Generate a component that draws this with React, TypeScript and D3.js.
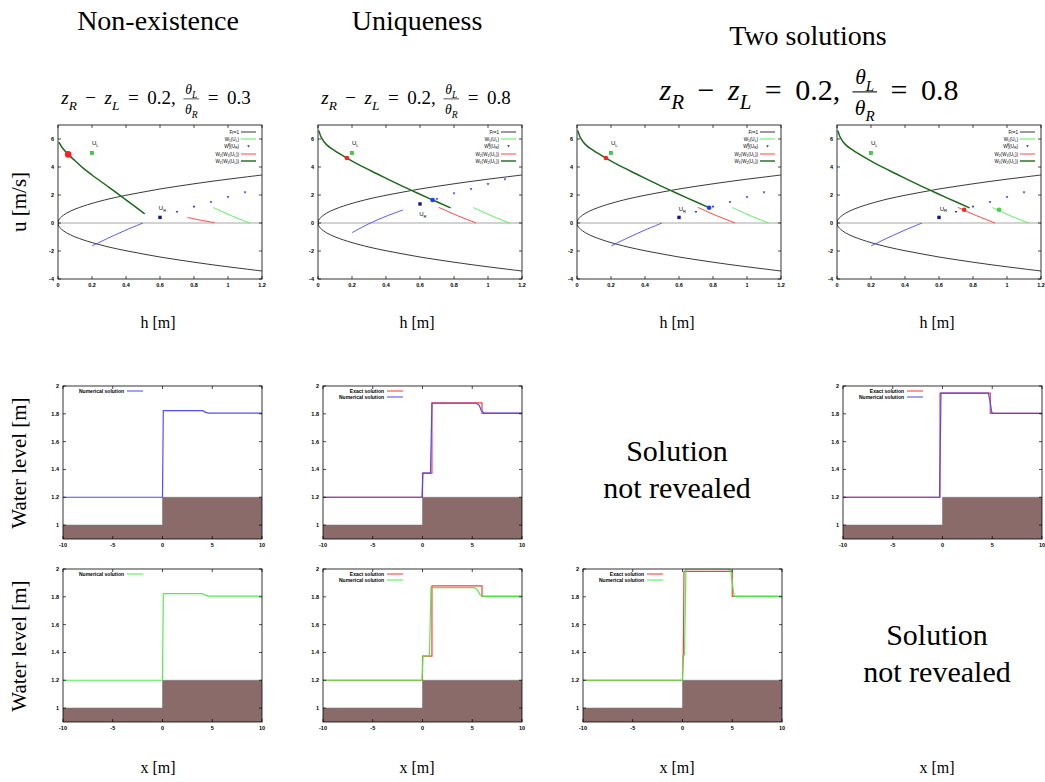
import { useEffect, useRef } from 'react';
import * as d3 from 'd3';

type P = [number, number];
type Seg = { t: string; s?: number; i?: boolean; dx?: number };

const SERIF = '"Liberation Serif", "DejaVu Serif", serif';
const SANS = '"Liberation Sans", Arial, sans-serif';

// ---------- phase plane (h, u) ----------
const hTicks = [0, 0.2, 0.4, 0.6, 0.8, 1, 1.2];
const uTicks = [-4, -2, 0, 2, 4, 6];
const frH = [0, 0.002, 0.01, 0.02, 0.05, 0.1, 0.15, 0.2, 0.3, 0.4, 0.5, 0.6, 0.7, 0.8, 0.9, 1.0, 1.1, 1.2];
const frU = [0, 0.14, 0.31, 0.44, 0.7, 0.99, 1.21, 1.4, 1.72, 1.98, 2.21, 2.43, 2.62, 2.8, 2.97, 3.13, 3.28, 3.43];

// W1(W2(UL)) dark green
const w12Nonexist: P[] = [[0.005, 5.78], [0.03, 5.3], [0.06, 4.9], [0.1, 4.45], [0.15, 3.9], [0.2, 3.43], [0.3, 2.55], [0.4, 1.65], [0.45, 1.2], [0.51, 0.65]];
const w12Other: P[] = [[0.005, 6.6], [0.02, 6.1], [0.05, 5.6], [0.1, 5.15], [0.17, 4.64], [0.25, 4.1], [0.35, 3.5], [0.45, 2.9], [0.55, 2.33], [0.65, 1.78], [0.78, 1.08]];
// blue curve through UR (W2 branch)
const blueLow: P[] = [[0.2, -1.64], [0.3, -1.05], [0.4, -0.5], [0.5, 0]];
const blueHigh: P[] = [[0.2, -0.69], [0.3, -0.05], [0.4, 0.48], [0.5, 0.93]];
// W2(W1(UL)) red
const redNonexist: P[] = [[0.76, 0.4], [0.84, 0.2], [0.92, 0.03]];
const redOther: P[] = [[0.71, 1.12], [0.82, 0.53], [0.93, 0.0]];
// W1(UL) light green
const w1L: P[] = [[0.915, 1.1], [1.02, 0.52], [1.127, 0.0]];
// W2^B(UR) triangles
const triLow: P[] = [[0.7, 0.8], [0.8, 1.17], [0.9, 1.5], [1.0, 1.86], [1.1, 2.2]];
const triHigh: P[] = [[0.7, 1.72], [0.8, 2.12], [0.9, 2.43], [1.0, 2.79], [1.1, 3.12]];
const uL: P = [0.2, 5.0];
const uRLow: P = [0.6, 0.4];
const uRHigh: P = [0.6, 1.36];

const phasePanels = [
  { w12: w12Nonexist, blue: blueLow, red: redNonexist, tri: triLow, uR: uRLow, uRLab: [0.593, 0.9] as P, dots: [{ p: [0.06, 4.9] as P, c: '#ff2020', r: 3.3 }] },
  { w12: w12Other, blue: blueHigh, red: redOther, tri: triHigh, uR: uRHigh, uRLab: [0.595, 0.5] as P, dots: [{ p: [0.17, 4.64] as P, c: '#ff2020', r: 2.3 }, { p: [0.674, 1.64] as P, c: '#1f3cff', r: 2.3 }] },
  { w12: w12Other, blue: blueLow, red: redOther, tri: triLow, uR: uRLow, uRLab: [0.598, 0.86] as P, dots: [{ p: [0.17, 4.64] as P, c: '#ff2020', r: 2.3 }, { p: [0.777, 1.09] as P, c: '#1f3cff', r: 2.3 }] },
  { w12: w12Other, blue: blueLow, red: redOther, tri: triLow, uR: uRLow, uRLab: [0.604, 0.88] as P, dots: [{ p: [0.748, 0.95] as P, c: '#ff2020', r: 2.3 }, { p: [0.953, 0.95] as P, c: '#33dd33', r: 2.3 }] },
];

// ---------- water level (x, eta) ----------
const xTicks = [-10, -5, 0, 5, 10];
const etaTicks = [1, 1.2, 1.4, 1.6, 1.8, 2];
const bed: P[] = [[-10, 1], [0, 1], [0, 1.2], [10, 1.2]];
const numNonexist: P[] = [[-10, 1.2], [0, 1.2], [0.08, 1.823], [4.0, 1.823], [4.3, 1.812], [4.6, 1.805], [10, 1.805]];
const exactUnique: P[] = [[-10, 1.2], [0, 1.2], [0, 1.373], [0.95, 1.373], [0.95, 1.878], [5.98, 1.878], [5.98, 1.803], [10, 1.803]];
const numUniqueBlue: P[] = [[-10, 1.2], [-0.05, 1.2], [0.05, 1.373], [0.8, 1.373], [0.95, 1.876], [5.4, 1.876], [5.7, 1.862], [5.9, 1.825], [6.2, 1.805], [10, 1.805]];
const numUniqueGreen: P[] = [[-10, 1.2], [-0.05, 1.2], [0.05, 1.375], [0.7, 1.375], [0.85, 1.866], [5.2, 1.866], [5.5, 1.852], [5.8, 1.815], [6.1, 1.803], [10, 1.803]];
const exactTwoA: P[] = [[-10, 1.2], [-0.25, 1.2], [-0.25, 1.949], [4.8, 1.949], [4.8, 1.803], [10, 1.803]];
const numTwoA: P[] = [[-10, 1.2], [-0.3, 1.2], [-0.15, 1.949], [4.6, 1.949], [4.75, 1.9], [4.95, 1.812], [5.1, 1.803], [10, 1.803]];
const exactTwoB: P[] = [[-10, 1.2], [0, 1.2], [0.08, 1.38], [0.15, 1.983], [5.0, 1.983], [5.0, 1.803], [10, 1.803]];
const numTwoB: P[] = [[-10, 1.2], [0, 1.2], [0.02, 1.38], [0.2, 1.38], [0.35, 2.0], [4.6, 2.0], [4.85, 1.99], [5.0, 1.9], [5.2, 1.803], [10, 1.803]];

const RED = '#ff3030';
const BLUE = '#4646ff';
const GREEN = '#44ee44';

const waterPanels = [
  { col: 0, row: 0, lines: [{ d: numNonexist, c: BLUE, label: 'Numerical solution' }] },
  { col: 1, row: 0, lines: [{ d: exactUnique, c: RED, label: 'Exact solution' }, { d: numUniqueBlue, c: BLUE, label: 'Numerical solution' }] },
  { col: 3, row: 0, lines: [{ d: exactTwoA, c: RED, label: 'Exact solution' }, { d: numTwoA, c: BLUE, label: 'Numerical solution' }] },
  { col: 0, row: 1, lines: [{ d: numNonexist, c: GREEN, label: 'Numerical solution' }] },
  { col: 1, row: 1, lines: [{ d: exactUnique, c: RED, label: 'Exact solution' }, { d: numUniqueGreen, c: GREEN, label: 'Numerical solution' }] },
  { col: 2, row: 1, lines: [{ d: exactTwoB, c: RED, label: 'Exact solution' }, { d: numTwoB, c: GREEN, label: 'Numerical solution' }] },
];

const phaseLefts = [58, 318, 577, 837];
const waterLefts = [63, 323, 583, 843];
const colCenters = [158, 417, 677, 937];

function rich(text: any, segs: Seg[], fs: number) {
  let cur = 0;
  segs.forEach((sg) => {
    const target = sg.s === 1 ? fs * 0.3 : sg.s === -1 ? -fs * 0.42 : 0;
    const ts = text.append('tspan').attr('dy', target - cur).text(sg.t);
    if (sg.dx) ts.attr('dx', sg.dx);
    if (sg.s) ts.attr('font-size', fs * 0.7);
    if (sg.i) ts.attr('font-style', 'italic');
    cur = target;
  });
}

function rightEdge(t: any) {
  const bb = (t.node() as SVGTextElement).getBBox();
  return bb.x + bb.width;
}

function mathLabel(svg: any, cx: number, y: number, size: number, ratio: string) {
  const gap = size * 0.45;
  const g = svg.append('g').attr('font-family', SERIF).attr('font-size', size).attr('fill', '#000');
  const t1 = g.append('text').attr('x', 0).attr('y', 0);
  rich(t1, [
    { t: 'z', i: true }, { t: 'R', i: true, s: 1 },
    { t: '−', dx: gap }, { t: 'z', i: true, dx: gap }, { t: 'L', i: true, s: 1 },
    { t: '=', dx: gap }, { t: '0.2,', dx: gap },
  ], size);
  let x = rightEdge(t1) + gap * 0.9;
  const fs = size * 0.72;
  const num = g.append('text').attr('font-size', fs).attr('y', -size * 0.52).attr('text-anchor', 'middle');
  rich(num, [{ t: 'θ', i: true }, { t: 'L', i: true, s: 1 }], fs);
  const den = g.append('text').attr('font-size', fs).attr('y', size * 0.5).attr('text-anchor', 'middle');
  rich(den, [{ t: 'θ', i: true }, { t: 'R', i: true, s: 1 }], fs);
  const fw = Math.max((num.node() as SVGTextElement).getBBox().width, (den.node() as SVGTextElement).getBBox().width);
  const pad = size * 0.08;
  num.attr('x', x + pad + fw / 2);
  den.attr('x', x + pad + fw / 2);
  g.append('line').attr('x1', x).attr('x2', x + fw + 2 * pad).attr('y1', -size * 0.27).attr('y2', -size * 0.27)
    .attr('stroke', '#000').attr('stroke-width', size * 0.035);
  x += fw + 2 * pad;
  const t3 = g.append('text').attr('x', x).attr('y', 0);
  rich(t3, [{ t: '=', dx: gap }, { t: ratio, dx: gap }], size);
  x = rightEdge(t3);
  g.attr('transform', `translate(${cx - x / 2},${y})`);
}

function frame(g: any, x: any, y: any, xt: number[], yt: number[], fmtX: (v: number) => string) {
  const [x0, x1] = x.range();
  const [y0, y1] = y.range();
  const tl = 3;
  const tk = g.append('g').attr('stroke', '#000').attr('stroke-width', 0.7);
  xt.forEach((v) => {
    tk.append('line').attr('x1', x(v)).attr('x2', x(v)).attr('y1', y0).attr('y2', y0 - tl);
    tk.append('line').attr('x1', x(v)).attr('x2', x(v)).attr('y1', y1).attr('y2', y1 + tl);
  });
  yt.forEach((v) => {
    tk.append('line').attr('x1', x0).attr('x2', x0 + tl).attr('y1', y(v)).attr('y2', y(v));
    tk.append('line').attr('x1', x1).attr('x2', x1 - tl).attr('y1', y(v)).attr('y2', y(v));
  });
  g.append('rect').attr('x', x0).attr('y', y1).attr('width', x1 - x0).attr('height', y0 - y1)
    .attr('fill', 'none').attr('stroke', '#000').attr('stroke-width', 0.8);
  const lab = g.append('g').attr('font-family', SANS).attr('font-size', 5.5).attr('font-weight', 'bold').attr('fill', '#000');
  xt.forEach((v) => {
    lab.append('text').attr('x', x(v)).attr('y', y0 + 8).attr('text-anchor', 'middle').text(fmtX(v));
  });
  yt.forEach((v) => {
    lab.append('text').attr('x', x0 - 4).attr('y', y(v) + 2).attr('text-anchor', 'end').text(String(v));
  });
}

export default function App() {
  const ref = useRef<SVGSVGElement>(null);

  useEffect(() => {
    if (!ref.current) return;
    const svg = d3.select(ref.current);
    svg.selectAll('*').remove();

    const defs = svg.append('defs');

    // ---- column titles ----
    const titles = svg.append('g').attr('font-family', SERIF).attr('font-size', 28).attr('text-anchor', 'middle').attr('fill', '#000');
    titles.append('text').attr('x', colCenters[0]).attr('y', 30).text('Non-existence');
    titles.append('text').attr('x', colCenters[1]).attr('y', 30).text('Uniqueness');
    titles.append('text').attr('x', 808).attr('y', 45).text('Two solutions');

    mathLabel(svg, 156, 104, 19, '0.3');
    mathLabel(svg, 416, 104, 19, '0.8');
    mathLabel(svg, 809, 100, 30, '0.8');

    // ---- phase plane panels ----
    const line = d3.line<P>().curve(d3.curveCatmullRom.alpha(0.5));
    const frUpper: P[] = frH.map((h, i) => [h, frU[i]] as P);
    const frLower: P[] = frH.map((h, i) => [h, -frU[i]] as P).reverse();
    const frAll: P[] = [...frLower, ...frUpper.slice(1)];

    phasePanels.forEach((pp, k) => {
      const left = phaseLefts[k];
      const x = d3.scaleLinear().domain([0, 1.2]).range([left, left + 204]);
      const y = d3.scaleLinear().domain([-4, 7]).range([279, 125]);
      const g = svg.append('g');
      const cid = `pclip${k}`;
      defs.append('clipPath').attr('id', cid).append('rect')
        .attr('x', left).attr('y', 125).attr('width', 204).attr('height', 154);
      const pl = g.append('g').attr('clip-path', `url(#${cid})`).attr('fill', 'none');
      const toPx = (d: P[]) => line(d.map((p) => [x(p[0]), y(p[1])] as P));

      pl.append('line').attr('x1', x(0)).attr('x2', x(1.2)).attr('y1', y(0)).attr('y2', y(0))
        .attr('stroke', '#a8a8a8').attr('stroke-width', 1.1);
      pl.append('path').attr('d', toPx(frAll)).attr('stroke', '#222').attr('stroke-width', 0.9);
      pl.append('path').attr('d', toPx(pp.blue)).attr('stroke', BLUE).attr('stroke-width', 0.9);
      pl.append('path').attr('d', toPx(w1L)).attr('stroke', GREEN).attr('stroke-width', 0.9);
      pl.append('path').attr('d', toPx(pp.red)).attr('stroke', RED).attr('stroke-width', 0.9);
      pl.append('path').attr('d', toPx(pp.w12)).attr('stroke', '#1c6a1c').attr('stroke-width', 1.5);

      const tri = d3.symbol().type(d3.symbolTriangle).size(3);
      pp.tri.forEach((p) => {
        pl.append('path').attr('d', tri()).attr('transform', `translate(${x(p[0])},${y(p[1])}) rotate(180)`)
          .attr('fill', '#2a2aff');
      });
      // UL and UR squares
      pl.append('rect').attr('x', x(uL[0]) - 1.7).attr('y', y(uL[1]) - 1.7).attr('width', 3.4).attr('height', 3.4)
        .attr('fill', '#3ed43e').attr('stroke', '#1e8e1e').attr('stroke-width', 0.4);
      pl.append('rect').attr('x', x(pp.uR[0]) - 1.7).attr('y', y(pp.uR[1]) - 1.7).attr('width', 3.4).attr('height', 3.4)
        .attr('fill', '#14148c');
      pp.dots.forEach((d) => {
        pl.append('circle').attr('cx', x(d.p[0])).attr('cy', y(d.p[1])).attr('r', d.r).attr('fill', d.c);
      });

      const labs = g.append('g').attr('font-family', SANS).attr('font-size', 6).attr('fill', '#000');
      const tL = labs.append('text').attr('x', x(0.2)).attr('y', y(5.55));
      rich(tL, [{ t: 'U' }, { t: 'L', s: 1 }], 6);
      const tR = labs.append('text').attr('x', x(pp.uRLab[0])).attr('y', y(pp.uRLab[1]));
      rich(tR, [{ t: 'U' }, { t: 'R', s: 1 }], 6);

      // legend
      const right = left + 204;
      const leg = g.append('g').attr('font-family', SANS).attr('font-size', 4.6).attr('fill', '#000');
      const entries: { segs: Seg[]; c: string; w: number; tri?: boolean }[] = [
        { segs: [{ t: 'Fr=1' }], c: '#222', w: 0.9 },
        { segs: [{ t: 'W' }, { t: '1', s: 1 }, { t: '(U' }, { t: 'L', s: 1 }, { t: ')' }], c: GREEN, w: 0.9 },
        { segs: [{ t: 'W' }, { t: '2', s: 1 }, { t: 'B', s: -1, dx: -2.3 }, { t: '(U' }, { t: 'R', s: 1 }, { t: ')' }], c: '#2a2aff', w: 0, tri: true },
        { segs: [{ t: 'W' }, { t: '2', s: 1 }, { t: '(W' }, { t: '1', s: 1 }, { t: '(U' }, { t: 'L', s: 1 }, { t: '))' }], c: RED, w: 0.9 },
        { segs: [{ t: 'W' }, { t: '1', s: 1 }, { t: '(W' }, { t: '2', s: 1 }, { t: '(U' }, { t: 'L', s: 1 }, { t: '))' }], c: '#1c6a1c', w: 1.4 },
      ];
      const rowsY = [132, 139, 146, 154, 161];
      entries.forEach((e, i) => {
        const ty = rowsY[i];
        const t = leg.append('text').attr('x', right - 23).attr('y', ty + 1.5).attr('text-anchor', 'end');
        rich(t, e.segs, 4.6);
        if (e.tri) {
          leg.append('path').attr('d', tri()).attr('transform', `translate(${right - 13.5},${ty}) rotate(180)`).attr('fill', e.c);
        } else {
          leg.append('line').attr('x1', right - 21).attr('x2', right - 6).attr('y1', ty).attr('y2', ty)
            .attr('stroke', e.c).attr('stroke-width', e.w);
        }
      });

      frame(g, x, y, hTicks, uTicks, (v) => String(v));
    });

    // ---- water level panels ----
    const rowTops = [386, 569];
    const ph = 153;
    const lin = d3.line<P>();
    waterPanels.forEach((wp, k) => {
      const left = waterLefts[wp.col];
      const top = rowTops[wp.row];
      const x = d3.scaleLinear().domain([-10, 10]).range([left, left + 199]);
      const y = d3.scaleLinear().domain([0.9, 2]).range([top + ph, top]);
      const g = svg.append('g');
      const cid = `wclip${k}`;
      defs.append('clipPath').attr('id', cid).append('rect')
        .attr('x', left).attr('y', top - 0.6).attr('width', 199).attr('height', ph + 0.6);
      const pl = g.append('g').attr('clip-path', `url(#${cid})`);
      const area = d3.area<P>().x((d) => x(d[0])).y0(y(0.9)).y1((d) => y(d[1]));
      pl.append('path').attr('d', area(bed)).attr('fill', '#8b6b6a');
      pl.append('path').attr('d', lin(bed.map((p) => [x(p[0]), y(p[1])] as P)))
        .attr('fill', 'none').attr('stroke', '#777').attr('stroke-width', 0.6);
      wp.lines.forEach((l) => {
        pl.append('path').attr('d', lin(l.d.map((p) => [x(p[0]), y(p[1])] as P)))
          .attr('fill', 'none').attr('stroke', l.c).attr('stroke-width', 1.2).attr('stroke-opacity', 0.95);
      });
      const leg = g.append('g').attr('font-family', SANS).attr('font-size', 5).attr('font-weight', 'bold').attr('fill', '#000');
      wp.lines.forEach((l, i) => {
        const ty = top + 5 + i * 6;
        leg.append('text').attr('x', left + 61).attr('y', ty + 1.7).attr('text-anchor', 'end').text(l.label);
        leg.append('line').attr('x1', left + 64).attr('x2', left + 80).attr('y1', ty).attr('y2', ty)
          .attr('stroke', l.c).attr('stroke-width', 1);
      });
      frame(g, x, y, xTicks, etaTicks, (v) => String(v));
    });

    // ---- axis labels ----
    const al = svg.append('g').attr('font-family', SERIF).attr('fill', '#000').attr('text-anchor', 'middle');
    colCenters.forEach((cx) => {
      al.append('text').attr('x', cx).attr('y', 328).attr('font-size', 16).text('h [m]');
      al.append('text').attr('x', cx).attr('y', 773).attr('font-size', 16).text('x [m]');
    });
    al.append('text').attr('transform', 'translate(26,202) rotate(-90)').attr('font-size', 21).text('u [m/s]');
    al.append('text').attr('transform', 'translate(26,463) rotate(-90)').attr('font-size', 21).text('Water level [m]');
    al.append('text').attr('transform', 'translate(26,646) rotate(-90)').attr('font-size', 21).text('Water level [m]');

    const nr = svg.append('g').attr('font-family', SERIF).attr('font-size', 30).attr('fill', '#000').attr('text-anchor', 'middle');
    nr.append('text').attr('x', 677).attr('y', 461).text('Solution');
    nr.append('text').attr('x', 677).attr('y', 498).text('not revealed');
    nr.append('text').attr('x', 937).attr('y', 645).text('Solution');
    nr.append('text').attr('x', 937).attr('y', 682).text('not revealed');
  }, []);

  return (
    <svg
      ref={ref}
      width={1045}
      height={782}
      style={{ position: 'absolute', left: 0, top: 0, background: '#fff' }}
    />
  );
}
